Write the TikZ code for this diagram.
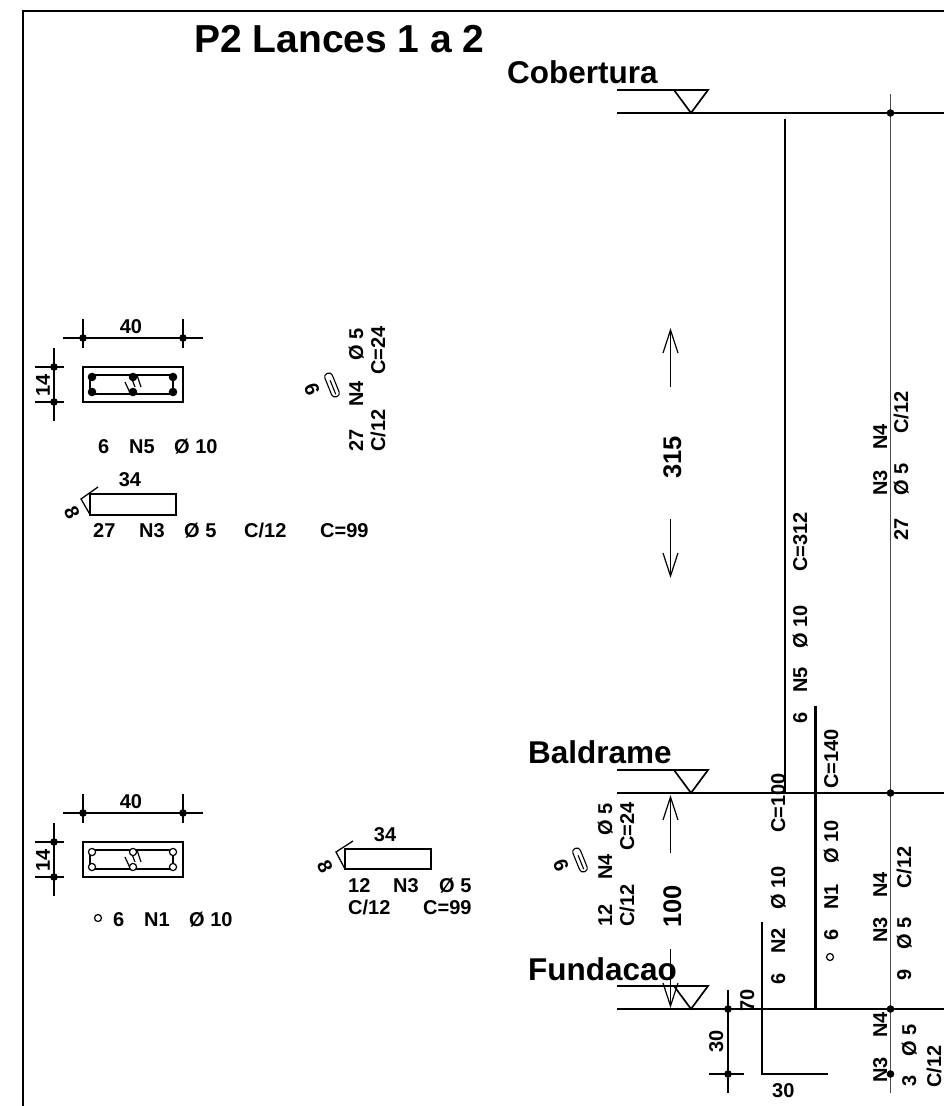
\documentclass[tikz,border=0pt]{standalone}
\usepackage{fontspec}
\setmainfont{Liberation Sans}
\newcommand\tb[2]{\makebox[#1pt][l]{#2}}
\newcommand\fsz[1]{\bfseries\fontsize{#1}{#1}\selectfont}
\tikzset{
  lab/.style={font=\fsz{20},inner sep=0pt,anchor=base west},
  vlab/.style={lab,rotate=90},
  ctr/.style={font=\fsz{20},inner sep=0pt,anchor=center},
  level/.style={font=\fsz{31.5},inner sep=0pt,anchor=base west},
  dimbig/.style={font=\fsz{25.5},inner sep=0pt,anchor=base west,rotate=90},
  thin line/.style={line width=1.2pt},
  lev/.style={line width=1.7pt},
  bar/.style={line width=2.2pt},
  box/.style={line width=2pt},
  ring/.style={fill=white,draw=black,line width=1.2pt},
  clip loop/.style={line width=1.1pt,rounded corners=3.5pt},
}
\begin{document}
\begin{tikzpicture}[x=1pt,y=-1pt]
\useasboundingbox (0,0) rectangle (944,1106);
% frame
\draw[line width=2.2pt] (23,1106) -- (23,11) -- (944,11);
\node[font=\fsz{39},inner sep=0pt,anchor=base west] (title) at (194,52) {P2 Lances 1 a 2};
% levels
\node[level] (cob) at (507,83) {Cobertura};
\node[level] (bal) at (528,763) {Baldrame};
\node[level] (fun) at (528,980) {Fundacao};
\foreach \y in {113,793,1009}{
  \draw[lev] (617,\y-23) -- (708,\y-23) -- (691,\y) -- (674,\y-23);
  \draw[lev] (617,\y) -- (944,\y);
}
% verticals
\draw[line width=2.5pt] (785,119) -- (785,793);
\draw[line width=1.4pt,black!70] (890.5,94) -- (890.5,1093);
\draw[bar] (815.5,706) -- (815.5,1009);
\draw[bar] (762,922) -- (762,1074) -- (828,1074);
\foreach \y in {113,793,1009,1074}{ \fill (890.5,\y) circle (3.8); }
% dim 70/30
\draw[thin line] (728,990) -- (728,1093);
\draw[thin line] (709,1074) -- (744,1074);
\fill (728,1009) circle (3.8);
\fill (728,1074) circle (3.8);
\node[vlab] (d70) at (754,1012) {70};
\node[vlab] (d30a) at (723,1053) {30};
\node[lab] (d30b) at (772,1097) {30};
% storey dimensions
\foreach \t/\u/\b/\d/\e/\f in {330/387/353/519/576/553,797/853/820/949/1006/983}{
  \draw[thin line] (670.5,\u) -- (670.5,\t);
  \draw[thin line] (663,\b) -- (670.5,\t) -- (678,\b);
  \draw[thin line] (670.5,\d) -- (670.5,\e);
  \draw[thin line] (663,\f) -- (670.5,\e) -- (678,\f);
}
\node[dimbig] (d315) at (681,479) {315};
\node[dimbig] (d100) at (681,928) {100};
% rotated labels, elevation
\node[vlab] (n5) at (807,724) {\tb{31}{6}\tb{44}{N5}\tb{77}{Ø 10}C=312};
\node[vlab] (n3a) at (887,496) {\tb{46}{N3}N4};
\node[vlab] (n3b) at (908,541) {\tb{45}{27}\tb{62}{Ø 5}C/12};
\node[vlab] (n2) at (785,985) {\tb{31}{6}\tb{44}{N2}\tb{77}{Ø 10}C=100};
\node[vlab] (n1) at (838,941) {\tb{31}{6}\tb{46}{N1}\tb{75}{Ø 10}C=140};
\draw[ring] (830,957) circle (3.5);
\node[vlab] (n3c) at (887,943) {\tb{45}{N3}N4};
\node[vlab] (n3d) at (911,981) {\tb{31}{9}\tb{61}{Ø 5}C/12};
\node[vlab] (n3e) at (887,1083) {\tb{45}{N3}N4};
\node[vlab] (n3f) at (916,1087) {\tb{30}{3}Ø 5};
\node[vlab] (n3g) at (941,1088) {C/12};
% stirrup call-out, lower
\node[vlab] (n4a) at (612,927) {\tb{47}{12}\tb{44}{N4}Ø 5};
\node[vlab] (n4b) at (634,927) {\tb{76}{C/12}C=24};
\node[ctr,rotate=-70] (six2) at (561,865) {6};
\draw[clip loop,rotate around={-68:(580,860)}] (567.5,856) rectangle (592.5,864) (575,860) -- (590,860);
% stirrup call-out, upper
\node[vlab] (n4c) at (363,452) {\tb{45}{27}\tb{46}{N4}Ø 5};
\node[vlab] (n4d) at (385,452) {\tb{77}{C/12}C=24};
\node[ctr,rotate=-70] (six1) at (312,389) {6};
\draw[clip loop,rotate around={-68:(332,385)}] (319.5,381) rectangle (344.5,389) (327,385) -- (342,385);
% sections
\foreach \y in {0,475}{
  \begin{scope}[yshift=-\y pt]
    \draw[thin line] (63,338) -- (203,338) (83,319) -- (83,348) (183,319) -- (183,348);
    \fill (83,338) circle (3.8); \fill (183,338) circle (3.8);
    \draw[thin line] (54,348) -- (54,421) (35,367) -- (64,367) (35,402) -- (64,402);
    \fill (54,367) circle (3.8); \fill (54,402) circle (3.8);
    \draw[box] (83,367) rectangle (183,402);
    \draw[line width=1.5pt] (90,394) -- (90,375) -- (173,375) -- (173,394) -- cycle;
    \draw[line width=1.2pt] (125,382) -- (131,395) (130,374) -- (135,387) (137,375) -- (141,387);
  \end{scope}
}
\foreach \x in {92,133,173}{
  \foreach \y in {377,392}{ \fill (\x,\y) circle (4.3); }
  \foreach \y in {852,867}{ \draw[ring] (\x,\y) circle (3.6); }
}
\node[ctr] (w1) at (131,327) {40};
\node[ctr,rotate=90] (h1) at (43,385) {14};
\node[ctr] (w2) at (131,802) {40};
\node[ctr,rotate=90] (h2) at (43,860) {14};
\node[lab] (l5) at (98,453) {\tb{31}{6}\tb{45}{N5}Ø 10};
\draw[ring] (98,918) circle (3.5);
\node[lab] (l1) at (113,926) {\tb{31}{6}\tb{45}{N1}Ø 10};
% N3 bars
\draw[box] (90,494) rectangle (176,514.5);
\draw[line width=1.3pt] (90,514.5) -- (81,499) -- (98,487);
\node[ctr] (b1) at (130,480) {34};
\node[ctr,rotate=-65] (e1) at (72,513) {8};
\node[lab] (l3a) at (93,537) {\tb{46}{27}\tb{45}{N3}\tb{60}{Ø 5}\tb{76}{C/12}C=99};
\draw[box] (345,849) rectangle (431,869);
\draw[line width=1.3pt] (345,869) -- (336,852) -- (353,841);
\node[ctr] (b2) at (385,835) {34};
\node[ctr,rotate=-65] (e2) at (325,867) {8};
\node[lab] (l3b) at (348,892) {\tb{45}{12}\tb{46}{N3}Ø 5};
\node[lab] (l3c) at (348,914) {\tb{75}{C/12}C=99};
\end{tikzpicture}
\end{document}
